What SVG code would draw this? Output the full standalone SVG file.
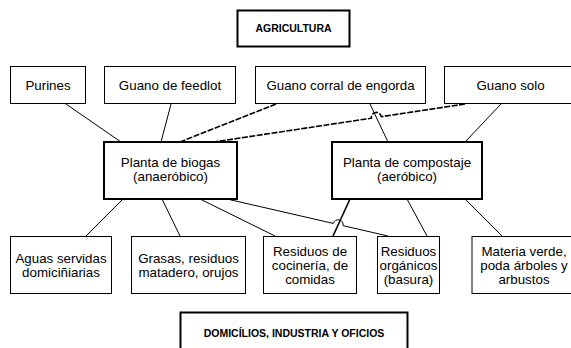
<svg xmlns="http://www.w3.org/2000/svg" width="571" height="348" viewBox="0 0 571 348">
<style>
.box{fill:#fff;stroke:#000;stroke-width:1}
.bold{fill:#fff;stroke:#000;stroke-width:2}
.t{font-family:"Liberation Sans",Arial,sans-serif;font-size:13.33px;fill:#000;text-anchor:middle}
.h{font-family:"Liberation Sans",Arial,sans-serif;font-size:10.5px;font-weight:bold;fill:#000;text-anchor:middle}
.c{fill:none;stroke:#000;stroke-width:1}
.d{fill:none;stroke:#000;stroke-width:1.6;stroke-dasharray:6 1.5}
.k{fill:none;stroke:#000;stroke-width:1.6}
</style>
<rect width="571" height="348" fill="#fff"/>
<g id="connectors">
<line class="c" x1="66" y1="104" x2="121" y2="142"/>
<line class="c" x1="171" y1="104" x2="161" y2="142"/>
<line class="d" x1="276" y1="104" x2="180" y2="142"/>
<path class="d" d="M465,104 L381.3,116.67 A5,5 0 0 0 371.4,118.17 L214,142"/>
<line class="c" x1="370" y1="104" x2="388" y2="142"/>
<line class="c" x1="501" y1="104" x2="465" y2="142"/>
<line class="c" x1="123" y1="199" x2="86" y2="236"/>
<line class="c" x1="162" y1="199" x2="180" y2="236"/>
<line class="c" x1="200" y1="199" x2="275" y2="236"/>
<path class="c" d="M227,199 L333.38,223.45 A5,5 0 0 1 343.12,225.69 L388,236"/>
<line class="k" x1="350" y1="199" x2="333" y2="236"/>
<line class="c" x1="407" y1="199" x2="427" y2="236"/>
<line class="c" x1="465" y1="199" x2="502" y2="236"/>
</g>
<g id="agricultura">
<rect class="bold" x="237.5" y="10.5" width="112" height="36"/>
<text class="h" x="293.5" y="31.5">AGRICULTURA</text>
</g>
<g id="purines">
<rect class="box" x="10.5" y="66.5" width="75" height="37"/>
<text class="t" x="48" y="89.5">Purines</text>
</g>
<g id="guano-feedlot">
<rect class="box" x="104.5" y="66.5" width="131" height="37"/>
<text class="t" x="170" y="89.5">Guano de feedlot</text>
</g>
<g id="guano-corral">
<rect class="box" x="255.5" y="66.5" width="170" height="37"/>
<text class="t" x="340.5" y="89.5">Guano corral de engorda</text>
</g>
<g id="guano-solo">
<rect class="box" x="444.5" y="66.5" width="132" height="37"/>
<text class="t" x="510.5" y="89.5">Guano solo</text>
</g>
<g id="planta-biogas">
<rect class="bold" x="104" y="142" width="133" height="57"/>
<text class="t" x="170.5" y="166.5">Planta de biogas</text>
<text class="t" x="170.5" y="180.5">(anaeróbico)</text>
</g>
<g id="planta-compostaje">
<rect class="bold" x="332" y="142" width="150" height="57"/>
<text class="t" x="407" y="166.5">Planta de compostaje</text>
<text class="t" x="407" y="180.5">(aeróbico)</text>
</g>
<g id="aguas-servidas">
<rect class="box" x="10.5" y="236.5" width="101" height="57"/>
<text class="t" x="61" y="262.5">Aguas servidas</text>
<text class="t" x="61" y="276.5">domiciñiarias</text>
</g>
<g id="grasas">
<rect class="box" x="131.5" y="236.5" width="114" height="57"/>
<text class="t" x="188.5" y="262.5">Grasas, residuos</text>
<text class="t" x="188.5" y="276.5">matadero, orujos</text>
</g>
<g id="residuos-cocineria">
<rect class="box" x="263.5" y="236.5" width="93" height="57"/>
<text class="t" x="310" y="255.5">Residuos de</text>
<text class="t" x="310" y="269.5">cocinería, de</text>
<text class="t" x="310" y="283.5">comidas</text>
</g>
<g id="residuos-organicos">
<rect class="box" x="377.5" y="236.5" width="62" height="57"/>
<text class="t" x="408.5" y="255.5">Residuos</text>
<text class="t" x="408.5" y="269.5">orgánicos</text>
<text class="t" x="408.5" y="283.5">(basura)</text>
</g>
<g id="materia-verde">
<rect class="box" x="472" y="236.5" width="104" height="57"/>
<text class="t" x="524" y="255.5">Materia verde,</text>
<text class="t" x="524" y="269.5">poda árboles y</text>
<text class="t" x="524" y="283.5">arbustos</text>
</g>
<g id="domicilios">
<rect class="bold" x="180.5" y="312.5" width="227" height="40"/>
<text class="h" x="294" y="336.5">DOMICÍLIOS, INDUSTRIA Y OFICIOS</text>
</g>
</svg>
